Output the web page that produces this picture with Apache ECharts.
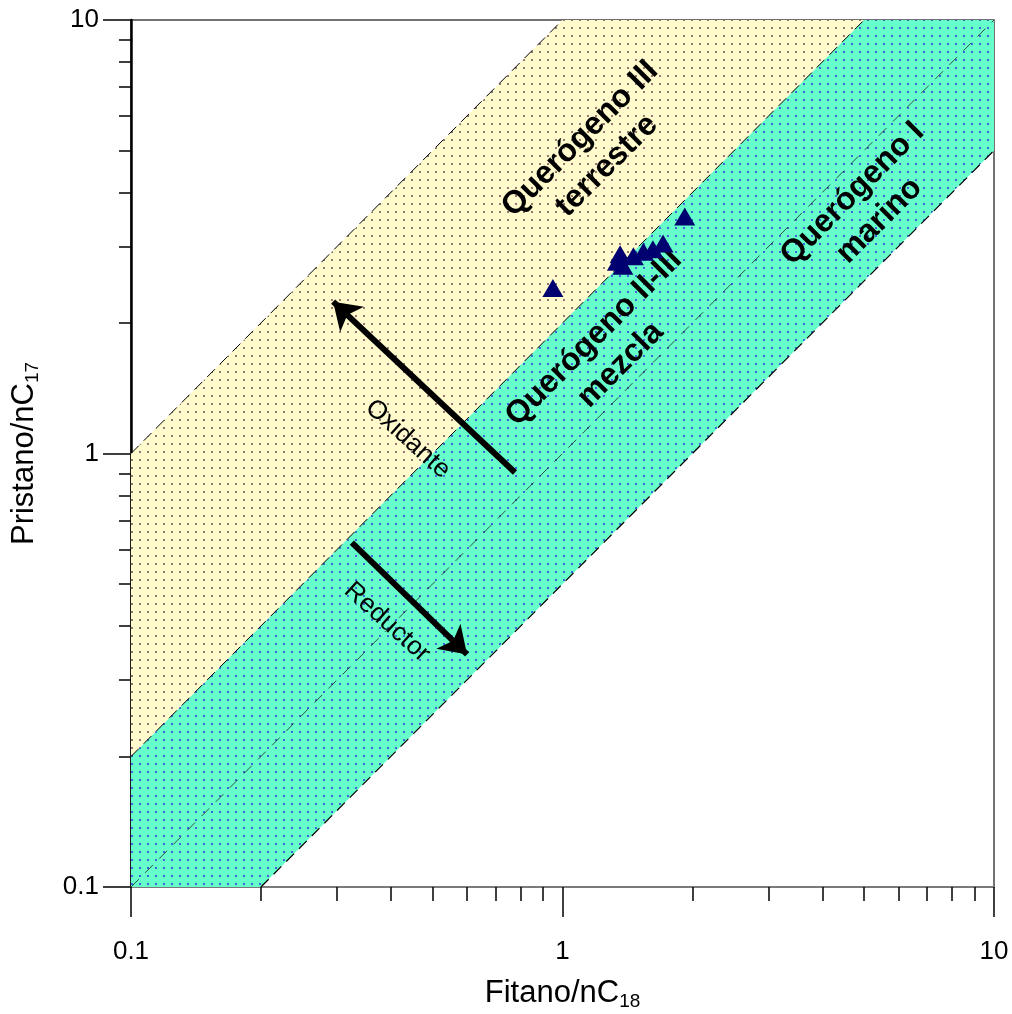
<!DOCTYPE html>
<html>
<head>
<meta charset="utf-8">
<script src="https://cdn.jsdelivr.net/npm/echarts@6/dist/echarts.min.js"></script>
<style>
html,body{margin:0;padding:0;background:#fff;}
#chart{width:1012px;height:1014px;}
</style>
</head>
<body>
<div id="chart"></div>
<script>
// ---- data ----
const majorTicks = [0.1, 1, 10];
const minorTicks = [0.2,0.3,0.4,0.5,0.6,0.7,0.8,0.9,2,3,4,5,6,7,8,9];
const sampleFitano   = [0.95, 1.36, 1.34, 1.38, 1.46, 1.54, 1.62, 1.71, 1.92];
const samplePristano = [2.41, 2.88, 2.77, 2.71, 2.85, 2.92, 2.96, 3.05, 3.52];
const terrestreZone = [[0.1,1],[1,10],[5,10],[0.1,0.2]];
const mezclaZone    = [[0.1,0.2],[5,10],[10,10],[10,5],[0.2,0.1],[0.1,0.1]];
const lineUpper  = [[0.1,1],[1,10]];
const lineMiddle = [[0.1,0.2],[5,10]];
const lineOneOne = [[0.1,0.1],[10,10]];
const lineLower  = [[0.2,0.1],[10,5]];
const arrowOxidante = [[0.776,0.904],[0.294,2.24]];
const arrowReductor = [[0.325,0.623],[0.601,0.344]];
const zoneLabels = [
  {pos:[1.18,4.95], text:'Querógeno III\nterrestre'},
  {pos:[1.27,1.72], text:'Querógeno II-III\nmezcla'},
  {pos:[5.05,3.7],  text:'Querógeno I\nmarino'}
];
const arrowLabels = [
  {pos:[0.438,1.08], text:'Oxidante'},
  {pos:[0.392,0.408], text:'Reductor'}
];

function makePattern(bg, dot){
  const c = document.createElement('canvas');
  c.width = 8; c.height = 8;
  const g = c.getContext('2d');
  g.fillStyle = bg; g.fillRect(0,0,8,8);
  g.fillStyle = dot; g.fillRect(3,3,2,2);
  return {image: c, repeat: 'repeat'};
}
const yellowPat = makePattern('#FFFBCC', '#94776f');
const tealPat   = makePattern('#66FFCC', '#3a68cc');
const zones = [terrestreZone, mezclaZone];
const zoneFills = [yellowPat, tealPat];

const chart = echarts.init(document.getElementById('chart'), null, {renderer:'canvas'});
const FONT = 'Liberation Sans, Arial, sans-serif';

function xAxisBase(extra){
  return Object.assign({
    type:'log', logBase:10, min:0.1, max:10, position:'bottom',
    splitLine:{show:false}, minorTick:{show:false}, minorSplitLine:{show:false}
  }, extra);
}
function yAxisBase(extra){
  return Object.assign({
    type:'log', logBase:10, min:0.1, max:10, position:'left',
    splitLine:{show:false}, minorTick:{show:false}, minorSplitLine:{show:false}
  }, extra);
}
const nameRich = {
  a:{fontSize:31, fontFamily:FONT, color:'#000', lineHeight:36},
  s:{fontSize:19, fontFamily:FONT, color:'#000', lineHeight:14, verticalAlign:'bottom'}
};

const option = {
  backgroundColor:'#fff',
  animation:false,
  grid:{left:131, right:18, top:20, bottom:127, containLabel:false, outerBoundsMode:'none',
    show:true, borderColor:'#444', borderWidth:1.5, backgroundColor:'transparent'},
  xAxis:[
    xAxisBase({
      axisLine:{show:true, lineStyle:{color:'#7a7a7a', width:2}},
      axisTick:{show:true, inside:false, length:30, customValues:majorTicks, lineStyle:{color:'#000', width:1.5}},
      axisLabel:{show:true, customValues:majorTicks, margin:52, fontSize:26, color:'#000', fontFamily:FONT,
        formatter:v=>String(+v.toPrecision(3))},
      name:'{a|Fitano/nC}{s|18}', nameLocation:'middle', nameGap:88,
      nameTextStyle:{fontFamily:FONT, color:'#000', rich:nameRich}
    }),
    xAxisBase({
      axisLine:{show:false},
      axisTick:{show:true, inside:false, length:14, customValues:minorTicks, lineStyle:{color:'#000', width:1.5}},
      axisLabel:{show:false}
    })
  ],
  yAxis:[
    yAxisBase({
      axisLine:{show:true, lineStyle:{color:'#000', width:2.5}},
      axisTick:{show:true, inside:false, length:28, customValues:majorTicks, lineStyle:{color:'#000', width:1.5}},
      axisLabel:{show:true, customValues:majorTicks, margin:32, fontSize:26, color:'#000', fontFamily:FONT,
        formatter:v=>String(+v.toPrecision(3))},
      name:'{a|Pristano/nC}{s|17}', nameLocation:'middle', nameGap:89, nameRotate:90,
      nameTextStyle:{fontFamily:FONT, color:'#000', rich:nameRich}
    }),
    yAxisBase({
      axisLine:{show:false},
      axisTick:{show:true, inside:false, length:12, customValues:minorTicks, lineStyle:{color:'#000', width:1.5}},
      axisLabel:{show:false}
    })
  ],
  series:[
    {
      type:'custom', name:'zones', xAxisIndex:0, yAxisIndex:0, z:1, silent:true,
      data: zones.map(z=>z[0]),
      renderItem:function(params, api){
        const zone = zones[params.dataIndex];
        return {type:'polygon', shape:{points: zone.map(p=>api.coord(p))},
          style:{fill: zoneFills[params.dataIndex], stroke:null}};
      }
    },
    {type:'line', data:lineUpper, showSymbol:false, symbol:'none', z:3, silent:true,
      lineStyle:{color:'#000', width:1, type:[11,7]}},
    {type:'line', data:lineMiddle, showSymbol:false, symbol:'none', z:3, silent:true,
      lineStyle:{color:'#000', width:1, type:[11,7]}},
    {type:'line', data:lineOneOne, showSymbol:false, symbol:'none', z:3, silent:true,
      lineStyle:{color:'#222', width:0.8, type:[11,9]}},
    {type:'line', data:lineLower, showSymbol:false, symbol:'none', z:3, silent:true,
      lineStyle:{color:'#000', width:1.2, type:[11,7]}},
    {type:'lines', coordinateSystem:'cartesian2d', z:4, silent:true,
      symbol:['none','arrow'], symbolSize:26,
      lineStyle:{color:'#000', width:6, opacity:1, curveness:0},
      data:[{coords:arrowOxidante},{coords:arrowReductor}]},
    {type:'scatter', z:5, silent:true, symbolSize:0, itemStyle:{opacity:1},
      data: zoneLabels.map(l=>({value:l.pos, label:{formatter:l.text}})),
      label:{show:true, position:'inside', rotate:45, fontSize:32, fontWeight:'bold', color:'#000',
        opacity:1, textBorderWidth:0, fontFamily:FONT, align:'center', verticalAlign:'middle', lineHeight:38}},
    {type:'scatter', z:5, silent:true, symbolSize:0, itemStyle:{opacity:1},
      data: arrowLabels.map(l=>({value:l.pos, label:{formatter:l.text}})),
      label:{show:true, position:'inside', rotate:-42, fontSize:26, color:'#000',
        opacity:1, textBorderWidth:0, fontFamily:FONT, align:'center', verticalAlign:'middle'}},
    {type:'scatter', z:6, symbol:'triangle', symbolSize:[21,18],
      itemStyle:{color:'#000070', opacity:1},
      data: sampleFitano.map((x,i)=>[x, samplePristano[i]])}
  ]
};
chart.setOption(option);
</script>
</body>
</html>
